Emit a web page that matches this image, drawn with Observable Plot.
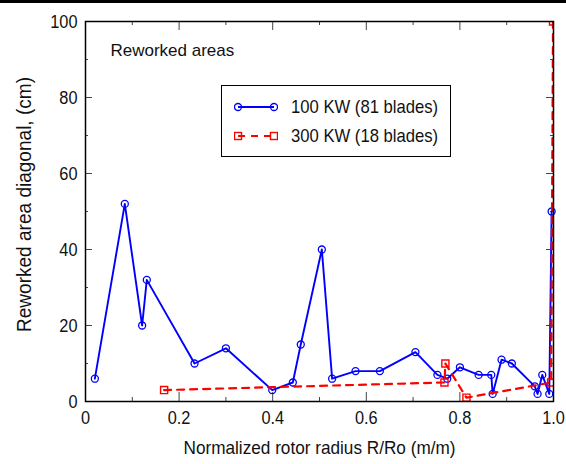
<!DOCTYPE html>
<html><head><meta charset="utf-8">
<script src="https://cdn.jsdelivr.net/npm/d3@7"></script>
<script src="https://cdn.jsdelivr.net/npm/@observablehq/plot@0.6"></script>
<style>
body{margin:0;background:#fff;}
#wrap{position:relative;width:566px;height:464px;overflow:hidden;font-family:"Liberation Sans",Arial,sans-serif;}
#topbar{position:absolute;left:0;top:0;width:566px;height:3px;background:#000;}
#legend{position:absolute;left:221px;top:85px;width:228px;height:70px;border:1.5px solid #000;background:#fff;}
.lrow{position:absolute;left:0;height:20px;display:flex;align-items:center;font-size:18.5px;color:#111;white-space:nowrap;}
.lrow svg{margin-left:12px;margin-right:13px;flex:none;}
.lrow span{display:inline-block;transform:scaleX(0.9);transform-origin:left center;}
</style></head>
<body><div id="wrap"><div id="chart"></div><div id="legend"></div><div id="topbar"></div></div>
<script>
// Data
const blueName = "100 KW (81 blades)";
const blueX = [0.02,0.084,0.121,0.131,0.233,0.30,0.399,0.443,0.46,0.505,0.527,0.577,0.629,0.705,0.752,0.773,0.80,0.84,0.867,0.87,0.889,0.911,0.96,0.966,0.976,0.991,0.996];
const blueY = [6,52,20,32,10,14,3,5,15,40,6,8,8,13,7,6,9,7,7,2,11,10,4,2,7,2,50];
const redName = "300 KW (18 blades)";
const redX = [0.168,0.767,0.769,0.814,0.995,0.999];
const redY = [3,5,10,1,5,100];
const xTicks = [0,0.2,0.4,0.6,0.8,1.0];
const xTickLabels = ["0","0.2","0.4","0.6","0.8","1.0"];
const xMinor = [0.1,0.3,0.5,0.7,0.9];
const yTicks = [0,20,40,60,80,100];
const yMinor = [10,30,50,70,90];
const xTitle = "Normalized rotor radius R/Ro (m/m)";
const yTitle = "Reworked area diagonal, (cm)";
const note = "Reworked areas";

const blue = blueX.map((x,i)=>({x, y: blueY[i]}));
const red = redX.map((x,i)=>({x, y: redY[i]}));

const W=566,H=464,mL=85,mR=13,mT=21,mB=63;
const fw=W-mL-mR, fh=H-mT-mB;
const font = '"Liberation Sans",Arial,sans-serif';
const tc = "#444";

const chart = Plot.plot({
  width:W,height:H,marginLeft:mL,marginRight:mR,marginTop:mT,marginBottom:mB,
  style:{fontFamily:font,fontSize:"19px",background:"transparent",color:"#111",overflow:"visible"},
  x:{domain:[0,1]}, y:{domain:[0,100]},
  marks:[
    Plot.tickX(xTicks,{x:d=>d,insetTop:fh-9,stroke:tc}),
    Plot.tickX(xTicks,{x:d=>d,insetBottom:fh-9,stroke:tc}),
    Plot.tickX(xMinor,{x:d=>d,insetTop:fh-4,stroke:tc}),
    Plot.tickX(xMinor,{x:d=>d,insetBottom:fh-4,stroke:tc}),
    Plot.tickY(yTicks,{y:d=>d,insetRight:fw-7,stroke:tc}),
    Plot.tickY(yTicks,{y:d=>d,insetLeft:fw-7,stroke:tc}),
    Plot.tickY(yMinor,{y:d=>d,insetRight:fw-3,stroke:tc}),
    Plot.tickY(yMinor,{y:d=>d,insetLeft:fw-3,stroke:tc}),
    Plot.axisX(xTicks,{tickSize:0,tickPadding:9,tickFormat:d=>xTickLabels[xTicks.indexOf(d)],label:null,fontSize:19}),
    Plot.axisY(yTicks,{tickSize:0,tickPadding:8,label:null,fontSize:19}),
    Plot.line(blue,{x:"x",y:"y",stroke:"#0000ff",strokeWidth:1.9}),
    Plot.dot(blue,{x:"x",y:"y",r:3.5,stroke:"#0000ff",strokeWidth:1.3,fill:"none"}),
    Plot.line(red,{x:"x",y:"y",stroke:"#ff0000",strokeWidth:2.2,strokeDasharray:"7,6",clip:true}),
    Plot.dot(red,{x:"x",y:"y",symbol:"square",r:4,stroke:"#ff0000",strokeWidth:1.4,fill:"none",clip:true}),
    Plot.frame({stroke:"#000",strokeWidth:1.5}),
    Plot.text([note],{frameAnchor:"top-left",dx:25,dy:22,textAnchor:"start",lineAnchor:"top",fontSize:17,fill:"#111"}),
    Plot.text([xTitle],{frameAnchor:"bottom",dy:52,textAnchor:"middle",fontSize:18.5,fill:"#111"}),
    Plot.text([yTitle],{frameAnchor:"left",dx:-61,dy:-7,rotate:-90,textAnchor:"middle",fontSize:20,fill:"#111"})
  ]
});
document.getElementById("chart").appendChild(chart);

// condense text to match the narrow face of the reference
function squeeze(el, s){
  const b = el.getBBox();
  const anchor = getComputedStyle(el).textAnchor;
  const ax = anchor === "middle" ? b.x + b.width/2 : anchor === "end" ? b.x + b.width : b.x;
  const t = el.getAttribute("transform") || "";
  el.setAttribute("transform", `${t} translate(${ax},0) scale(${s},1) translate(${-ax},0)`);
}
chart.querySelectorAll('g[aria-label="x-axis tick label"] text, g[aria-label="y-axis tick label"] text').forEach(el=>squeeze(el,0.86));
chart.querySelectorAll("text").forEach(el=>{
  if (el.textContent === xTitle) { el.setAttribute("textLength", 272); el.setAttribute("lengthAdjust","spacingAndGlyphs"); }
  if (el.textContent === yTitle) { el.setAttribute("textLength", 255); el.setAttribute("lengthAdjust","spacingAndGlyphs"); }
});

// legend
const lg = document.getElementById("legend");
[[blueName,"#0000ff",null,"circle",11],[redName,"#ff0000","7,6","square",39.5]].forEach(([name,col,dash,sym,top])=>{
  const row = document.createElement("div");
  row.className="lrow"; row.style.top = top+"px";
  const s = d3.create("svg").attr("width",44).attr("height",12);
  s.append("line").attr("x1",4).attr("x2",40).attr("y1",6).attr("y2",6).attr("stroke",col).attr("stroke-width",2).attr("stroke-dasharray",dash);
  [4,40].forEach(cx=>{
    if(sym==="circle") s.append("circle").attr("cx",cx).attr("cy",6).attr("r",3.5).attr("fill","none").attr("stroke",col).attr("stroke-width",1.3);
    else s.append("rect").attr("x",cx-3.5).attr("y",2.5).attr("width",7).attr("height",7).attr("fill","none").attr("stroke",col).attr("stroke-width",1.4);
  });
  row.appendChild(s.node());
  const t = document.createElement("span"); t.textContent = name; row.appendChild(t);
  lg.appendChild(row);
});
</script></body></html>
